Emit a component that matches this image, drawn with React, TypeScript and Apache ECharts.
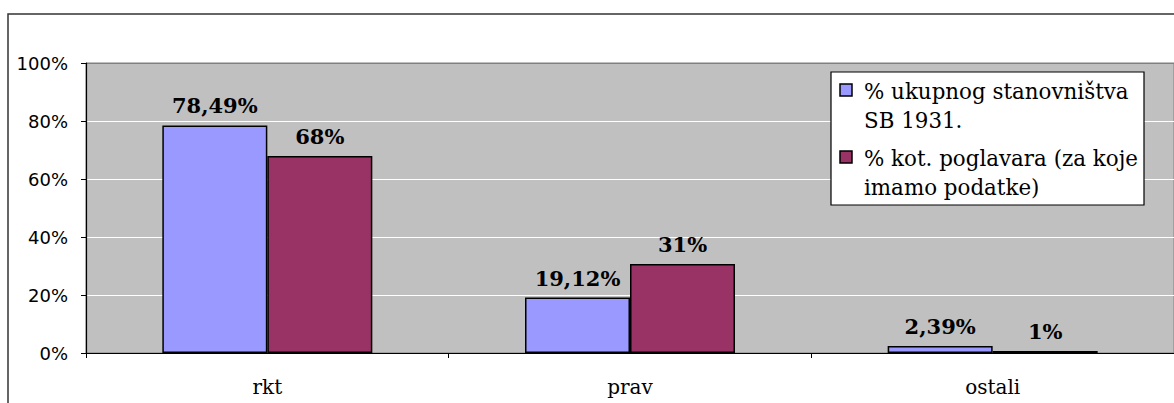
import React, { useEffect, useRef } from "react";
import * as echarts from "echarts";

const categories = ["rkt", "prav", "ostali"];
const populationShare = [78.49, 19.12, 2.39];
const chiefShare = [67.9, 30.7, 0.7];
const seriesNames = ["% ukupnog stanovništva SB 1931.", "% kot. poglavara (za koje imamo podatke)"];
const legendLines = [
  ["% ukupnog stanovništva", "SB 1931."],
  ["% kot. poglavara (za koje", "imamo podatke)"],
];
const colors = ["#9999FF", "#993366"];
const yTicks = { min: 0, max: 100, interval: 20 };

const SERIF = "'DejaVu Serif', 'Liberation Serif', serif";
const SANS = "'DejaVu Sans', 'Liberation Sans', sans-serif";

export default function App() {
  const ref = useRef<HTMLDivElement>(null);
  useEffect(() => {
    if (!ref.current) return;
    const chart = echarts.init(ref.current, undefined, { renderer: "svg" });
    const legendItems: any[] = [];
    legendLines.forEach((lines, i) => {
      const baseY = i === 0 ? 84 : 151;
      legendItems.push({
        type: "rect",
        shape: { x: 840, y: baseY, width: 12, height: 12 },
        style: { fill: colors[i], stroke: "#000", lineWidth: 1.5 },
        z: 101,
      });
      lines.forEach((t, j) => {
        legendItems.push({
          type: "text",
          x: 864,
          y: baseY + 7 + j * 29,
          style: {
            text: t,
            font: `21.4px ${SERIF}`,
            fill: "#000",
            textVerticalAlign: "middle",
            verticalAlign: "middle",
          },
          z: 101,
        });
      });
    });

    chart.setOption({
      animation: false,
      backgroundColor: "#ffffff",
      legend: { show: false, data: seriesNames },
      grid: {
        left: 86,
        top: 63,
        right: -4,
        bottom: 50,
        show: true,
        backgroundColor: "#C0C0C0",
        borderColor: "#808080",
        borderWidth: 1,
        containLabel: false,
      },
      xAxis: {
        type: "category",
        data: categories,
        boundaryGap: true,
        axisLine: { show: true, lineStyle: { color: "#000", width: 1.2 } },
        axisTick: { show: true, alignWithLabel: false, length: 5, lineStyle: { color: "#000" } },
        axisLabel: { color: "#000", fontFamily: SERIF, fontSize: 20, margin: 24 },
        splitLine: { show: false },
      },
      yAxis: {
        type: "value",
        min: yTicks.min,
        max: yTicks.max,
        interval: yTicks.interval,
        axisLine: { show: true, lineStyle: { color: "#000", width: 1.2 } },
        axisTick: { show: true, length: 5, inside: false, lineStyle: { color: "#000" } },
        axisLabel: {
          color: "#000",
          fontFamily: SANS,
          fontSize: 18,
          margin: 18,
          formatter: "{value}%",
        },
        splitLine: {
          show: true,
          lineStyle: {
            color: ["#C0C0C0", "#ffffff", "#ffffff", "#ffffff", "#ffffff", "#808080"],
            width: 1,
          },
        },
      },
      series: [
        {
          name: seriesNames[0],
          type: "bar",
          data: populationShare,
          barWidth: 105,
          barGap: "0%",
          itemStyle: { color: colors[0], borderColor: "#000", borderWidth: 1.5 },
          label: {
            show: true,
            position: "top",
            distance: 9,
            color: "#000",
            fontFamily: SERIF,
            fontWeight: "bold",
            fontSize: 21,
            formatter: (p: any) => p.value.toFixed(2).replace(".", ",") + "%",
          },
        },
        {
          name: seriesNames[1],
          type: "bar",
          data: chiefShare,
          barWidth: 105,
          barGap: "0%",
          itemStyle: { color: colors[1], borderColor: "#000", borderWidth: 1.5 },
          label: {
            show: true,
            position: "top",
            distance: 9,
            color: "#000",
            fontFamily: SERIF,
            fontWeight: "bold",
            fontSize: 21,
            formatter: (p: any) => Math.round(p.value) + "%",
          },
        },
      ],
      graphic: [
        {
          type: "rect",
          shape: { x: 8, y: 14, width: 1200, height: 420 },
          style: { fill: "none", stroke: "#333", lineWidth: 1.5 },
          silent: true,
          z: 100,
        },
        {
          type: "rect",
          shape: { x: 831, y: 72, width: 313, height: 133 },
          style: { fill: "#fff", stroke: "#000", lineWidth: 1.2 },
          z: 100,
        },
        ...legendItems,
      ],
    });
    return () => chart.dispose();
  }, []);
  return (
    <div
      ref={ref}
      style={{ position: "fixed", left: 0, top: 0, width: 1174, height: 403 }}
    />
  );
}
